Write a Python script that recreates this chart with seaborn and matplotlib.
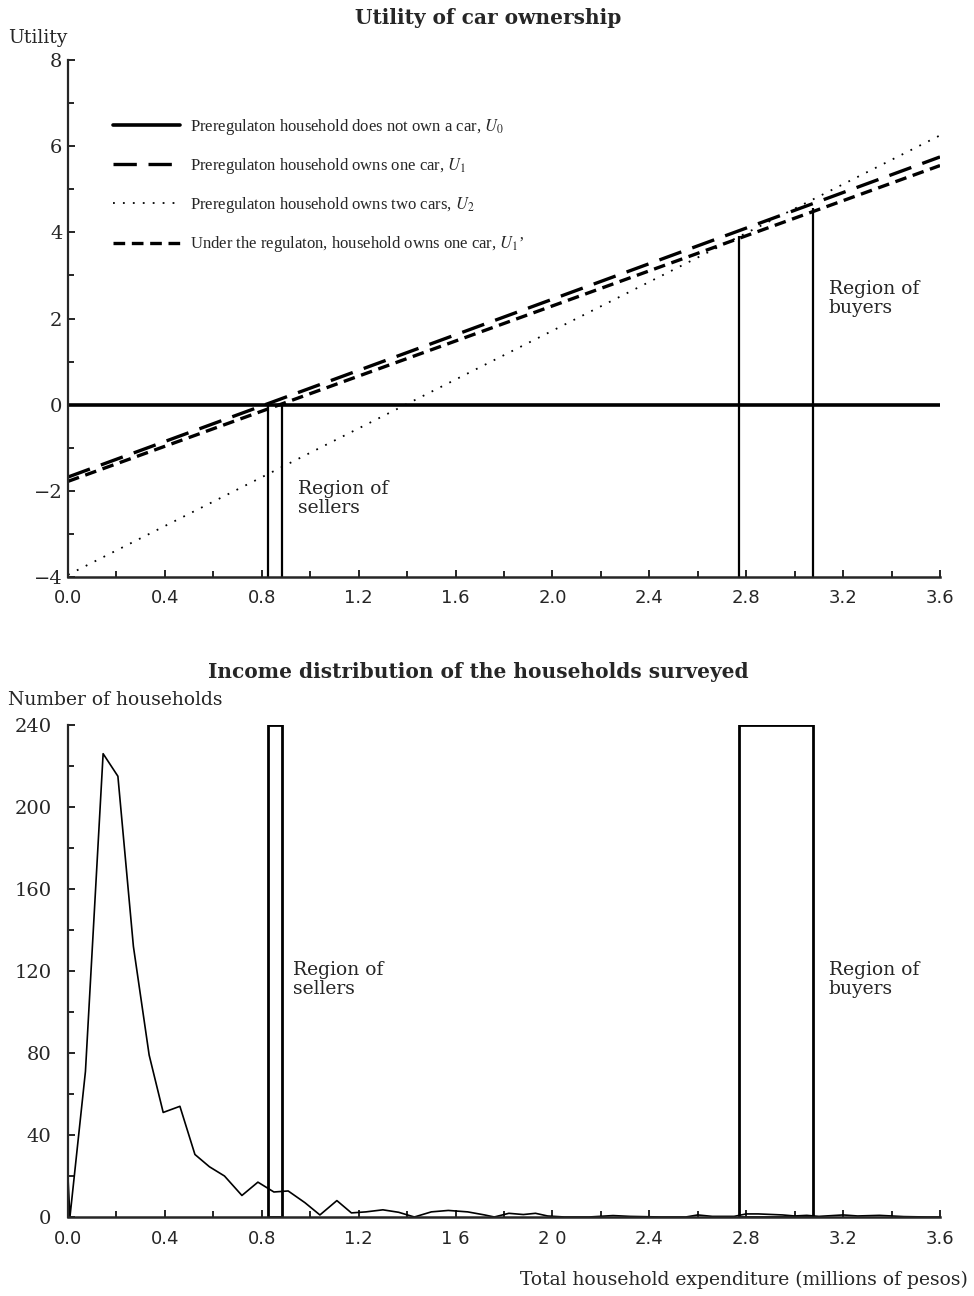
import numpy as np
import pandas as pd
import matplotlib
matplotlib.use("Agg")
import matplotlib.pyplot as plt
from matplotlib.ticker import MultipleLocator, FixedLocator
import seaborn as sns

# utility lines (straight lines, read at both ends)
expenditure_ends = [0.0, 3.6]
u0 = [0.0, 0.0]
u1 = [-1.68, 5.75]
u2 = [-3.95, 6.25]
u1_reg = [-1.78, 5.55]

# regions of sellers / buyers (millions of pesos)
sellers = [0.825, 0.885]
sellers_top = [0.0, 0.0]
buyers = [2.77, 3.075]
buyers_top = [3.92, 4.57]

# income distribution of the households surveyed
income_x = [0.0, 0.008, 0.072, 0.145, 0.206, 0.27, 0.335, 0.393, 0.462, 0.524,
            0.584, 0.646, 0.718, 0.784, 0.85, 0.909, 0.978, 1.04, 1.11, 1.17,
            1.23, 1.30, 1.365, 1.43, 1.50, 1.57, 1.65, 1.72, 1.76, 1.82,
            1.88, 1.93, 1.98, 2.05, 2.15, 2.25, 2.32, 2.45, 2.55, 2.60,
            2.66, 2.75, 2.80, 2.85, 2.95, 3.00, 3.05, 3.10, 3.20, 3.26,
            3.35, 3.45, 3.55, 3.6]
households = [19, 0, 71, 226, 215, 132, 79, 51, 54, 30.5,
              24.5, 20, 10.5, 17, 12.2, 12.7, 7, 1, 8, 2,
              2.5, 3.5, 2.3, 0, 2.5, 3.2, 2.5, 1, 0, 1.8,
              1.2, 1.8, 0.5, 0, 0, 0.7, 0.3, 0, 0, 1,
              0.3, 0.3, 1.5, 1.5, 1, 0.5, 0.8, 0.3, 1, 0.5,
              0.8, 0.2, 0, 0]

top_ticklabels = ["0.0", "0.4", "0.8", "1.2", "1.6", "2.0", "2.4", "2.8", "3.2", "3.6"]
bottom_ticklabels = ["0.0", "0.4", "0.8", "1.2", "1 6", "2 0", "2.4", "2.8", "3.2", "3.6"]
utility_ticklabels = ["\u22124", "\u22122", "0", "2", "4", "6", "8"]

legend_labels = [
    r"Preregulaton household does not own a car, $U_0$",
    r"Preregulaton household owns one car, $U_1$",
    r"Preregulaton household owns two cars, $U_2$",
    "Under the regulaton, household owns one car, $U_1$\u2019",
]

sns.set_style("ticks")
plt.rcParams["font.family"] = ["DejaVu Serif"]
plt.rcParams["mathtext.fontset"] = "stix"

W, H = 974, 1296
fig = plt.figure(figsize=(W / 100, H / 100), dpi=100)

def px_axes(left, right, top, bottom):
    return fig.add_axes([left / W, 1 - bottom / H, (right - left) / W, (bottom - top) / H])

ax1 = px_axes(68, 940, 60, 577)
ax2 = px_axes(68, 940, 725, 1217)

#
# Top: utility of car ownership
#
sns.lineplot(x=expenditure_ends, y=u0, ax=ax1, color="black", lw=2.6,
             label=legend_labels[0])
sns.lineplot(x=expenditure_ends, y=u1, ax=ax1, color="black", lw=2.4,
             linestyle=(0, (7, 3.5)), label=legend_labels[1])
sns.lineplot(x=expenditure_ends, y=u2, ax=ax1, color="black", lw=1.3,
             linestyle=(0, (1, 4.5)), label=legend_labels[2])
sns.lineplot(x=expenditure_ends, y=u1_reg, ax=ax1, color="black", lw=2.4,
             linestyle=(0, (3.5, 2)), label=legend_labels[3])

ax1.vlines(sellers, -4, sellers_top, color="black", lw=1.6)
ax1.vlines(buyers, -4, buyers_top, color="black", lw=1.6)

ax1.set_xlim(0, 3.6)
ax1.set_ylim(-4, 8)
ax1.xaxis.set_major_locator(FixedLocator(np.arange(10) * 0.4))
ax1.xaxis.set_minor_locator(MultipleLocator(0.2))
ax1.set_xticklabels(top_ticklabels, family="DejaVu Sans", fontsize=13)
ax1.set_yticks([-4, -2, 0, 2, 4, 6, 8])
ax1.yaxis.set_minor_locator(MultipleLocator(1))
ax1.set_yticklabels(utility_ticklabels, fontsize=14)

ax1.text(0.95, -1.75, "Region of\nsellers", fontsize=13.5, va="top", ha="left",
         linespacing=1.1)
ax1.text(3.14, 2.9, "Region of\nbuyers", fontsize=13.5, va="top", ha="left",
         linespacing=1.1)

ax1.legend(loc="upper left", bbox_to_anchor=(0.052, 0.89), frameon=False,
           borderpad=0, borderaxespad=0, handlelength=4.0, handletextpad=0.6,
           labelspacing=1.15, prop={"family": "Liberation Serif", "size": 12})

#
# Bottom: income distribution
#
sns.lineplot(x=income_x, y=households, ax=ax2, color="black", lw=1.2,
             sort=False, estimator=None)
ax2.bar([sellers[0], buyers[0]], [240, 240],
        width=[sellers[1] - sellers[0], buyers[1] - buyers[0]], align="edge",
        fill=False, edgecolor="black", lw=2)

ax2.set_xlim(0, 3.6)
ax2.set_ylim(0, 240)
ax2.xaxis.set_major_locator(FixedLocator(np.arange(10) * 0.4))
ax2.xaxis.set_minor_locator(MultipleLocator(0.2))
ax2.set_xticklabels(bottom_ticklabels, family="DejaVu Sans", fontsize=13)
ax2.yaxis.set_major_locator(MultipleLocator(40))
ax2.yaxis.set_minor_locator(MultipleLocator(20))
ax2.tick_params(axis="y", labelsize=14)

ax2.text(0.93, 125, "Region of\nsellers", fontsize=13.5, va="top", ha="left",
         linespacing=1.1)
ax2.text(3.14, 125, "Region of\nbuyers", fontsize=13.5, va="top", ha="left",
         linespacing=1.1)

for ax in (ax1, ax2):
    sns.despine(ax=ax)
    ax.spines["left"].set_linewidth(1.6)
    ax.spines["bottom"].set_linewidth(1.8)
    ax.set_xlabel("")
    ax.set_ylabel("")
    ax.tick_params(which="both", direction="in", color="black", width=1.2)
    ax.tick_params(which="major", length=5)
    ax.tick_params(which="minor", length=4)
    ax.tick_params(axis="x", which="major", pad=9)
ax1.tick_params(axis="y", which="major", pad=4)
ax2.tick_params(axis="y", which="major", pad=12)

fig.text(488 / W, 1 - 18 / H, "Utility of car ownership", ha="center", va="center",
         fontsize=14.5, fontweight="bold")
fig.text(8 / W, 1 - 38 / H, "Utility", ha="left", va="center", fontsize=13.5)
fig.text(478 / W, 1 - 672 / H, "Income distribution of the households surveyed",
         ha="center", va="center", fontsize=14.5, fontweight="bold")
fig.text(8 / W, 1 - 700 / H, "Number of households", ha="left", va="center",
         fontsize=13.5)
fig.text(968 / W, 1 - 1280 / H, "Total household expenditure (millions of pesos)",
         ha="right", va="center", fontsize=13.5)

fig.savefig("out.png", dpi=100)
